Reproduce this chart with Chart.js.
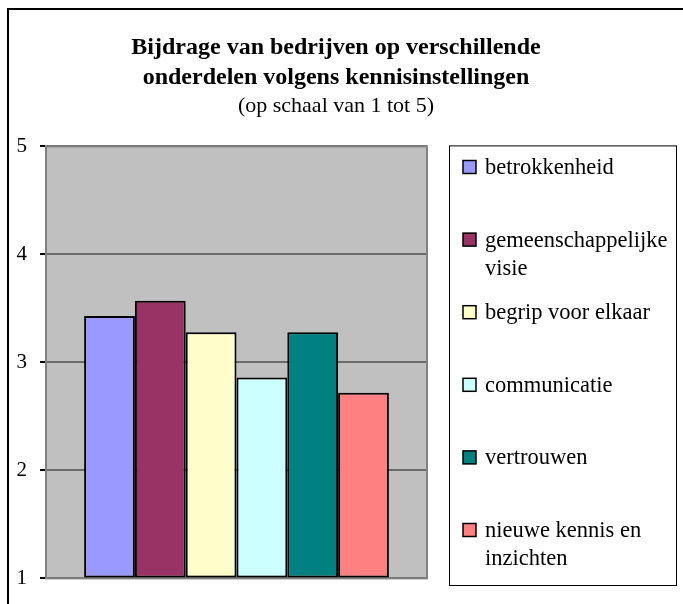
<!DOCTYPE html>
<html>
<head>
<meta charset="utf-8">
<script src="https://cdn.jsdelivr.net/npm/chart.js@4"></script>
<style>
  html, body { margin: 0; padding: 0; background: #ffffff; }
  #wrap { width: 683px; height: 604px; position: relative; }
</style>
</head>
<body>
<div id="wrap"><canvas id="c" width="683" height="604"></canvas></div>
<script>
// ---- data ----
const categories = [''];
const seriesNames = ['betrokkenheid', 'gemeenschappelijke visie', 'begrip voor elkaar', 'communicatie', 'vertrouwen', 'nieuwe kennis en inzichten'];
const seriesValues = [3.43, 3.57, 3.28, 2.86, 3.28, 2.72];
const seriesColors = ['#9999FF', '#993366', '#FFFFCC', '#CCFFFF', '#008080', '#FF8080'];
const titleLines = ['Bijdrage van bedrijven op verschillende', 'onderdelen volgens kennisinstellingen'];
const subtitleText = '(op schaal van 1 tot 5)';
const yMin = 1, yMax = 5, yStep = 1;

const SERIF = "'Liberation Serif', 'Times New Roman', serif";

const datasets = seriesNames.map((name, i) => ({
  label: name,
  data: [seriesValues[i]],
  backgroundColor: seriesColors[i],
  borderColor: '#000000',
  borderWidth: 2,
  borderSkipped: false,
  base: yMin,
  categoryPercentage: 0.8,
  barPercentage: 1.0
}));

const framePlugin = {
  id: 'frame',
  beforeDraw(chart) {
    const ctx = chart.ctx;
    ctx.save();
    ctx.fillStyle = '#ffffff';
    ctx.fillRect(0, 0, chart.width, chart.height);
    ctx.fillStyle = '#000000';
    ctx.fillRect(7, 8, 2, chart.height - 8);
    ctx.fillRect(7, 8, chart.width - 7, 2);
    const a = chart.chartArea;
    ctx.fillStyle = '#C0C0C0';
    ctx.fillRect(a.left, a.top, a.right - a.left, a.bottom - a.top);
    ctx.restore();
  },
  beforeDatasetsDraw(chart) {
    const ctx = chart.ctx;
    const a = chart.chartArea;
    ctx.save();
    ctx.strokeStyle = '#808080';
    ctx.lineWidth = 2;
    ctx.strokeRect(a.left, a.top, a.right - a.left, a.bottom - a.top);
    ctx.restore();
  }
};

const legendPlugin = {
  id: 'customLegend',
  afterDraw(chart) {
    const ctx = chart.ctx;
    const a = chart.chartArea;
    const boxL = 449, boxT = a.top - 1, boxR = 677, boxB = 586;
    ctx.save();
    ctx.fillStyle = '#ffffff';
    ctx.fillRect(boxL, boxT, boxR - boxL, boxB - boxT);
    ctx.strokeStyle = '#000000';
    ctx.lineWidth = 1;
    ctx.strokeRect(boxL + 0.5, boxT + 0.5, boxR - boxL - 1, boxB - boxT - 1);
    ctx.font = '22.5px ' + SERIF;
    ctx.textBaseline = 'middle';
    ctx.textAlign = 'left';
    const textX = 485, maxW = 186;
    const first = 167, step = 72.6, lineH = 28;
    chart.data.datasets.forEach((ds, i) => {
      const cy = first + i * step;
      // wrap
      const words = ds.label.split(' ');
      const lines = [];
      let cur = '';
      words.forEach(w => {
        const test = cur ? cur + ' ' + w : w;
        if (ctx.measureText(test).width > maxW && cur) { lines.push(cur); cur = w; }
        else cur = test;
      });
      if (cur) lines.push(cur);
      ctx.fillStyle = ds.backgroundColor;
      ctx.fillRect(463, cy - 6.5, 13, 13);
      ctx.strokeStyle = '#000000';
      ctx.lineWidth = 1.5;
      ctx.strokeRect(463, cy - 6.5, 13, 13);
      ctx.fillStyle = '#000000';
      lines.forEach((ln, k) => ctx.fillText(ln, textX, cy + 1 + k * lineH));
    });
    ctx.restore();
  }
};

new Chart(document.getElementById('c'), {
  type: 'bar',
  data: { labels: categories, datasets: datasets },
  plugins: [framePlugin, legendPlugin],
  options: {
    responsive: false,
    animation: false,
    layout: { padding: { top: 8, left: 8, right: 19, bottom: 23 } },
    plugins: {
      legend: { display: false },
      tooltip: { enabled: false },
      title: {
        display: true,
        text: titleLines,
        color: '#000000',
        font: { family: SERIF, size: 24, weight: 'bold', lineHeight: 1.25 },
        padding: { top: 25, bottom: 0 }
      },
      subtitle: {
        display: true,
        text: subtitleText,
        color: '#000000',
        font: { family: SERIF, size: 22, weight: 'normal', lineHeight: 1.2 },
        padding: { top: 0, bottom: 27 }
      }
    },
    scales: {
      x: { display: false },
      y: {
        min: yMin, max: yMax,
        ticks: { stepSize: yStep, color: '#000000', padding: 13, font: { family: SERIF, size: 21 } },
        grid: { color: '#6a6a6a', lineWidth: 2, tickLength: 6, tickColor: '#000000', drawOnChartArea: true },
        border: { display: true, color: '#808080', width: 2 },
        afterFit(s) { s.width = 38; }
      },
      yRight: {
        type: 'linear',
        position: 'right',
        display: true,
        ticks: { display: false },
        grid: { display: false },
        border: { display: false },
        afterFit(s) { s.width = 237; }
      }
    }
  }
});
</script>
</body>
</html>
